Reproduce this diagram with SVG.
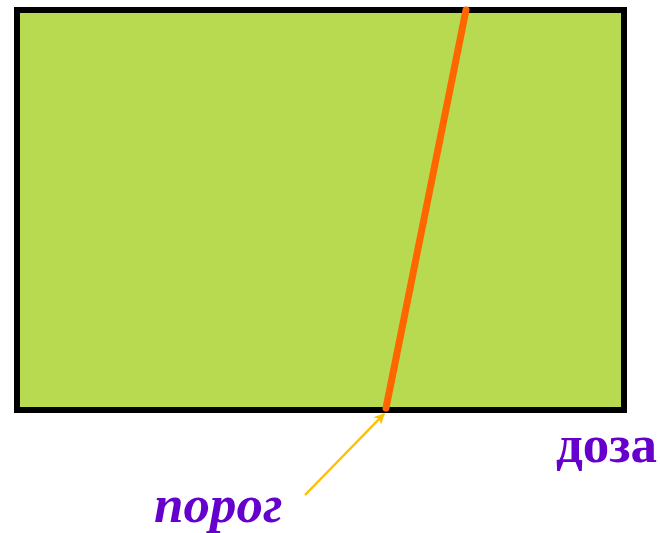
<svg xmlns="http://www.w3.org/2000/svg" width="660" height="533" viewBox="0 0 660 533">
<style>
.lbl{font-family:"Liberation Serif","Times New Roman",serif;font-weight:bold;fill:#6600CC;font-size:53px}
</style>
<defs>
<marker id="ah" viewBox="0 0 10 10" refX="9" refY="5" markerWidth="13" markerHeight="11" orient="auto" markerUnits="userSpaceOnUse">
<path d="M0,0 L10,5 L0,10 L3,5 Z" fill="#FFC000"/>
</marker>
</defs>
<g id="field">
<rect x="17" y="10" width="607" height="400" fill="#B8DA50" stroke="#000" stroke-width="6"/>
</g>
<g id="connectors">
<line x1="466" y1="10" x2="386" y2="408" stroke="#FF6600" stroke-width="7" stroke-linecap="round"/>
<line x1="305" y1="495" x2="384" y2="414" stroke="#FFC000" stroke-width="2.5" marker-end="url(#ah)"/>
</g>
<g id="labels">
<text class="lbl" x="556" y="462">доза</text>
<text class="lbl" x="154" y="522" font-style="italic">порог</text>
</g>
</svg>
